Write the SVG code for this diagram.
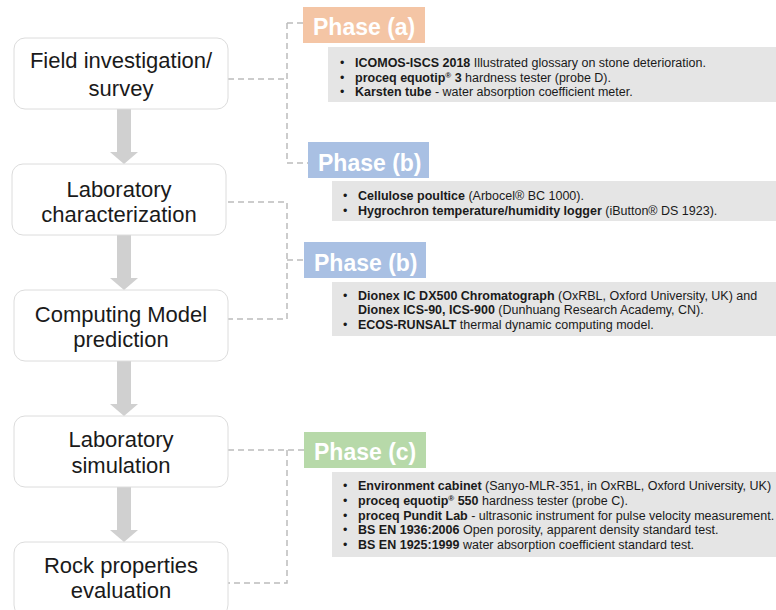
<svg xmlns="http://www.w3.org/2000/svg" width="776" height="610" viewBox="0 0 776 610">
<style>
.step rect{fill:#ffffff;stroke:#dcdcdc;stroke-width:1}
.step text{font-family:"Liberation Sans",Arial,sans-serif;font-size:22px;fill:#1a1a1a;text-anchor:middle}
.phase text{font-family:"Liberation Sans",Arial,sans-serif;font-size:23px;font-weight:bold;fill:#ffffff}
.info rect{fill:#e5e5e5}
.info text{font-family:"Liberation Sans",Arial,sans-serif;font-size:12.5px;fill:#1a1a1a}
.b{font-weight:bold}
.arrow{fill:#d0d0d0}
.conn{fill:none;stroke:#bcbcbc;stroke-width:1.5;stroke-dasharray:6 4}
</style>
<rect width="776" height="610" fill="#ffffff"/>

<g id="connectors">
  <path class="conn" d="M228,79 H287 M287,23 V163 M287,23 H303 M287,163 H308"/>
  <path class="conn" d="M228,202 H287 V319 H228 M287,260 H304"/>
  <path class="conn" d="M228,450 H304 M287,450 V583 H228"/>
  <polygon class="arrow" points="117,109 131,109 131,152 138,152 124,164 110,152 117,152"/>
  <polygon class="arrow" points="117,235 131,235 131,278 138,278 124,290 110,278 117,278"/>
  <polygon class="arrow" points="117,361 131,361 131,404 138,404 124,416 110,404 117,404"/>
  <polygon class="arrow" points="117,487 131,487 131,530 138,530 124,542 110,530 117,530"/>
</g>

<g id="step1" class="step">
  <rect x="14" y="38" width="214" height="71" rx="11"/>
  <text x="121" y="68">Field investigation/</text>
  <text x="121" y="96">survey</text>
</g>
<g id="step2" class="step">
  <rect x="12" y="164" width="214" height="71" rx="11"/>
  <text x="119" y="197">Laboratory</text>
  <text x="119" y="222">characterization</text>
</g>
<g id="step3" class="step">
  <rect x="14" y="290" width="214" height="71" rx="11"/>
  <text x="121" y="322">Computing Model</text>
  <text x="121" y="347">prediction</text>
</g>
<g id="step4" class="step">
  <rect x="14" y="416" width="214" height="71" rx="11"/>
  <text x="121" y="447">Laboratory</text>
  <text x="121" y="473">simulation</text>
</g>
<g id="step5" class="step">
  <rect x="14" y="542" width="214" height="74" rx="11"/>
  <text x="121" y="573">Rock properties</text>
  <text x="121" y="598">evaluation</text>
</g>

<g id="phaseA" class="phase">
  <rect x="303" y="7" width="122" height="36" fill="#f4c5a5"/>
  <text x="313" y="35">Phase (a)</text>
</g>
<g id="infoA" class="info">
  <rect x="328" y="47" width="448" height="55"/>
  <text x="340" y="67">•</text>
  <text x="355" y="67"><tspan class="b">ICOMOS-ISCS 2018</tspan> Illustrated glossary on stone deterioration.</text>
  <text x="340" y="81.5">•</text>
  <text x="355" y="81.5"><tspan class="b">proceq equotip</tspan><tspan class="b" font-size="8" baseline-shift="super">®</tspan><tspan class="b"> 3</tspan> hardness tester (probe D).</text>
  <text x="340" y="96">•</text>
  <text x="355" y="96"><tspan class="b">Karsten tube</tspan> - water absorption coefficient meter.</text>
</g>

<g id="phaseB1" class="phase">
  <rect x="308" y="142" width="121" height="36" fill="#a9c0e3"/>
  <text x="318" y="171">Phase (b)</text>
</g>
<g id="infoB1" class="info">
  <rect x="332" y="181" width="444" height="40"/>
  <text x="343" y="199.5">•</text>
  <text x="358" y="199.5"><tspan class="b">Cellulose poultice</tspan> (Arbocel® BC 1000).</text>
  <text x="343" y="214.5">•</text>
  <text x="358" y="214.5"><tspan class="b">Hygrochron temperature/humidity logger</tspan> (iButton® DS 1923).</text>
</g>

<g id="phaseB2" class="phase">
  <rect x="304" y="242" width="122" height="36" fill="#a9c0e3"/>
  <text x="314" y="271">Phase (b)</text>
</g>
<g id="infoB2" class="info">
  <rect x="332" y="282" width="444" height="54"/>
  <text x="343" y="299.5">•</text>
  <text x="358" y="299.5"><tspan class="b">Dionex IC DX500 Chromatograph</tspan> (OxRBL, Oxford University, UK) and</text>
  <text x="358" y="314"><tspan class="b">Dionex ICS-90, ICS-900</tspan> (Dunhuang Research Academy, CN).</text>
  <text x="343" y="328.5">•</text>
  <text x="358" y="328.5"><tspan class="b">ECOS-RUNSALT</tspan> thermal dynamic computing model.</text>
</g>

<g id="phaseC" class="phase">
  <rect x="304" y="432" width="122" height="36" fill="#b7d9a9"/>
  <text x="314" y="460">Phase (c)</text>
</g>
<g id="infoC" class="info">
  <rect x="332" y="472" width="444" height="85"/>
  <text x="343" y="489.5">•</text>
  <text x="358" y="489.5"><tspan class="b">Environment cabinet</tspan> (Sanyo-MLR-351, in OxRBL, Oxford University, UK)</text>
  <text x="343" y="504.5">•</text>
  <text x="358" y="504.5"><tspan class="b">proceq equotip</tspan><tspan class="b" font-size="8" baseline-shift="super">®</tspan><tspan class="b"> 550</tspan> hardness tester (probe C).</text>
  <text x="343" y="519.5">•</text>
  <text x="358" y="519.5"><tspan class="b">proceq Pundit Lab</tspan> - ultrasonic instrument for pulse velocity measurement.</text>
  <text x="343" y="534">•</text>
  <text x="358" y="534"><tspan class="b">BS EN 1936:2006</tspan> Open porosity, apparent density standard test.</text>
  <text x="343" y="548.5">•</text>
  <text x="358" y="548.5"><tspan class="b">BS EN 1925:1999</tspan> water absorption coefficient standard test.</text>
</g>
</svg>
